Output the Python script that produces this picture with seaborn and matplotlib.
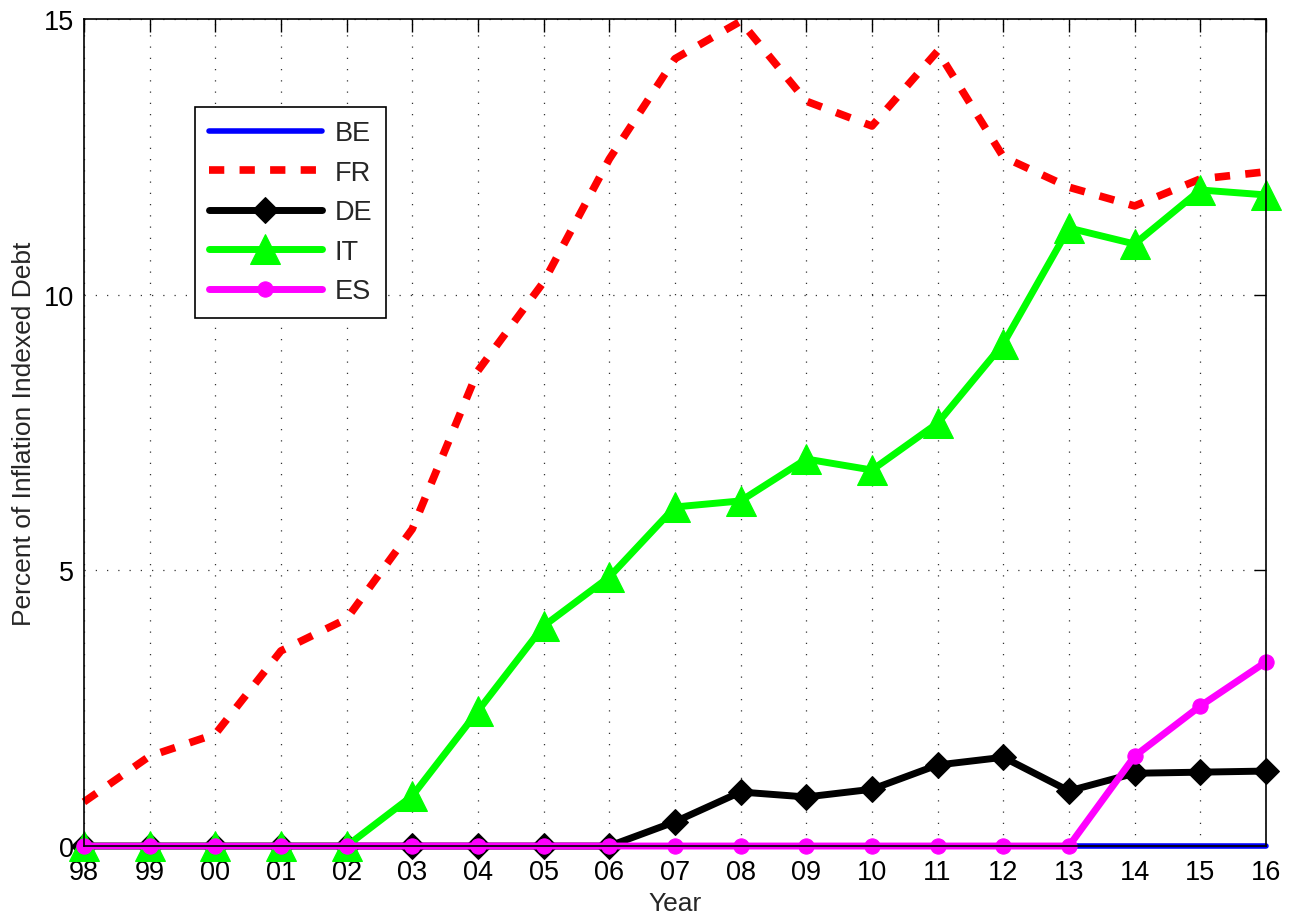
import numpy as np
import pandas as pd
import seaborn as sns
import matplotlib
matplotlib.use("Agg")
import matplotlib.pyplot as plt

# data
years = ["98", "99", "00", "01", "02", "03", "04", "05", "06", "07",
         "08", "09", "10", "11", "12", "13", "14", "15", "16"]
be = [0, 0, 0, 0, 0, 0, 0, 0, 0, 0, 0, 0, 0, 0, 0, 0, 0, 0, 0]
fr = [0.80, 1.63, 2.03, 3.54, 4.12, 5.75, 8.62, 10.23, 12.46, 14.28,
      14.96, 13.51, 13.06, 14.42, 12.50, 11.95, 11.61, 12.10, 12.23]
de = [0, 0, 0, 0, 0, 0, 0, 0, 0, 0.44,
      0.98, 0.89, 1.03, 1.47, 1.61, 1.00, 1.32, 1.34, 1.36]
it = [0, 0, 0, 0, 0, 0.91, 2.45, 3.99, 4.88, 6.15,
      6.26, 7.02, 6.82, 7.67, 9.11, 11.21, 10.92, 11.90, 11.81]
es = [0, 0, 0, 0, 0, 0, 0, 0, 0, 0,
      0, 0, 0, 0, 0, 0, 1.63, 2.54, 3.34]

sns.set_style("white")
plt.rcParams['font.family'] = ['Liberation Sans', 'DejaVu Sans']

x = np.arange(len(years))
df = pd.DataFrame({'x': x, 'BE': be, 'FR': fr, 'DE': de, 'IT': it, 'ES': es})

fig = plt.figure(figsize=(12.91, 9.2), dpi=100)
ax = fig.add_axes([0.065, 0.0793, 0.9156, 0.8989])

FR_DASH = (2.0, 2.0)

sns.lineplot(data=df, x='x', y='BE', ax=ax, color='#0000ff', lw=4, label='BE')
sns.lineplot(data=df, x='x', y='FR', ax=ax, color='#ff0000', lw=5.5, label='FR')
ax.lines[-1].set_dashes(FR_DASH)
sns.lineplot(data=df, x='x', y='DE', ax=ax, color='black', lw=5, marker='D',
             markersize=13, markeredgecolor='black', label='DE')
sns.lineplot(data=df, x='x', y='IT', ax=ax, color='#00ff00', lw=5, marker='^',
             markersize=21, markeredgecolor='#00ff00', label='IT')
sns.lineplot(data=df, x='x', y='ES', ax=ax, color='#ff00ff', lw=5, marker='o',
             markersize=11, markeredgecolor='#ff00ff', label='ES')

for ln in ax.lines:
    ln.set_clip_on(False)

ax.set_xlim(0, len(years) - 1)
ax.set_ylim(0, 15)
ax.set_xticks(x)
ax.set_xticklabels(years)
ax.set_yticks([0, 5, 10, 15])
ax.tick_params(direction='in', length=9, width=1, labelsize=19.5, colors='black',
               top=True, right=True)
ax.tick_params(axis='x', pad=9)
ax.tick_params(axis='y', pad=7)
ax.grid(True, color='#333333', linestyle=(0, (1, 8)), lw=0.9)
for sp in ax.spines.values():
    sp.set_color('black')
    sp.set_linewidth(1.2)

ax.set_xlabel('Year', fontsize=19, color='#262626', labelpad=5)
ax.set_ylabel('Percent of Inflation Indexed Debt', fontsize=19, color='#262626', labelpad=6)

leg = ax.legend(loc='upper left', bbox_to_anchor=(0.094, 0.894), fontsize=19.5,
                frameon=True, fancybox=False, framealpha=1, edgecolor='black',
                handlelength=4.2, labelspacing=0.5, borderpad=0.5,
                handletextpad=0.45, borderaxespad=0)
leg.get_frame().set_linewidth(1.2)
leg.get_lines()[1].set_dashes(FR_DASH)

fig.savefig('out.png', dpi=100)
